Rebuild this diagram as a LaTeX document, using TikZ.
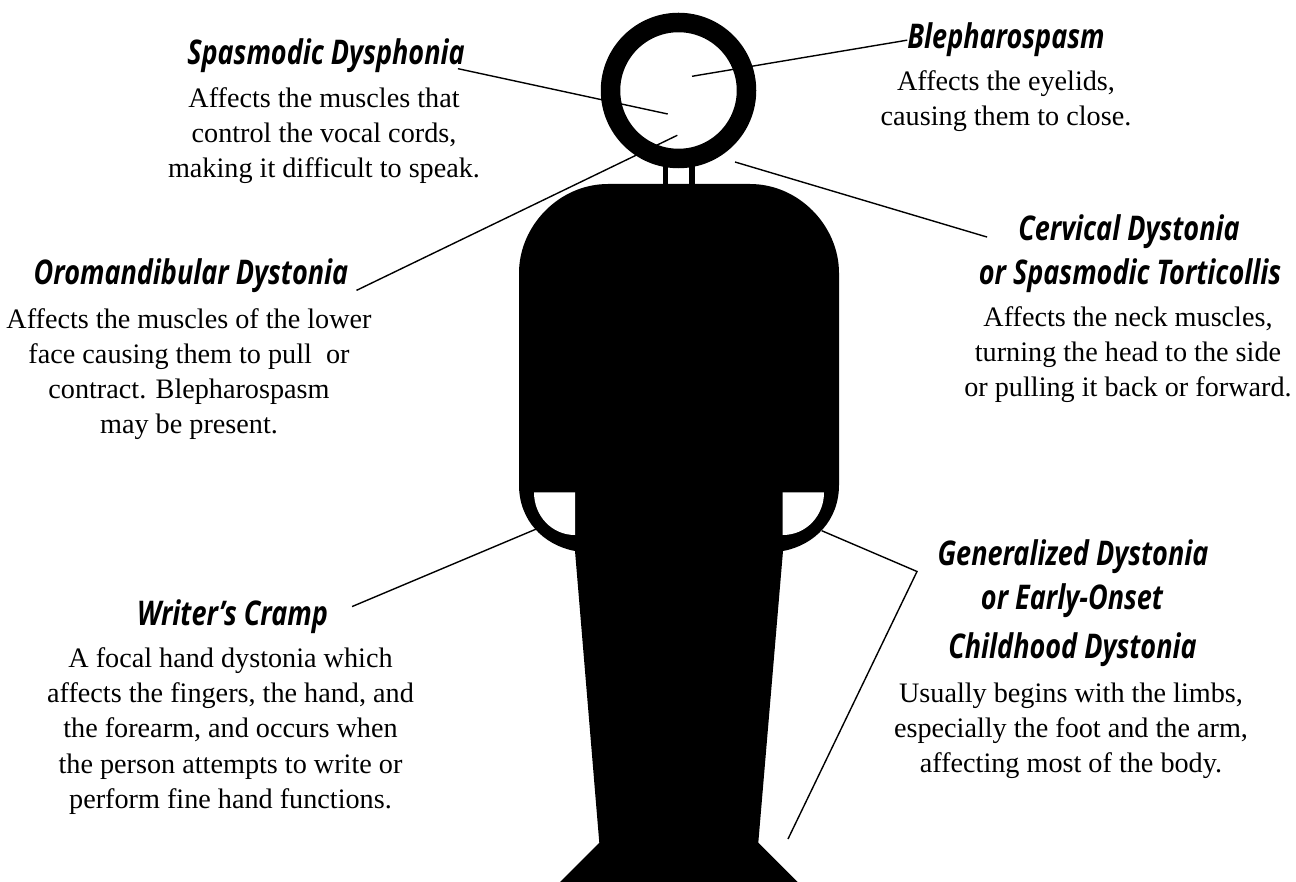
\documentclass[tikz,border=0pt]{standalone}
\usepackage{fontspec}
\setmainfont{Liberation Serif}
\newfontfamily\headfont[FakeStretch=0.795]{Open Sans}
\usepackage{tikz}
\usetikzlibrary{positioning, calc}
\tikzset{
    headtext/.style={font=\headfont\fontsize{34}{44}\selectfont\bfseries\itshape, inner sep=0pt, align=center, anchor=base},
    bodytext/.style={font=\fontsize{28.2}{35.3}\selectfont, inner sep=0pt, align=center, anchor=base},
    leader/.style={line width=1.4pt}
}

\begin{document}
\begin{tikzpicture}[x=1pt, y=-1pt]
\useasboundingbox (0,0) rectangle (1296,882);
% Figure silhouette
\draw[line width=19.5pt] (678.5,90.5) circle (68);
\fill (662.7,160) rectangle (668,190);
\fill (689.3,160) rectangle (694.7,190);
\fill (519,273) .. controls (519,226) and (559,184) .. (608,184) -- (750,184)
    .. controls (799,184) and (839,226) .. (839,273) -- (839,485)
    .. controls (839,520) and (815,545) .. (783,551) -- (758.3,842.7) -- (797.7,882)
    -- (560,882) -- (599.3,842.7) -- (575,551)
    .. controls (543,545) and (519,520) .. (519,485) -- cycle;
% Openings beside the hands
\fill[white] (534,492.3) -- (575,492.3) -- (575,535) .. controls (552,535) and (534,516) .. (534,492.3) -- cycle;
\fill[white] (824,492.3) -- (782.7,492.3) -- (782.7,535) .. controls (806,535) and (824,516) .. (824,492.3) -- cycle;
% Headings
\node[headtext] (dysphonia) at (326,64.3) {Spasmodic Dysphonia};
\node[headtext] (blepharo) at (1006,49) {Blepharospasm};
\node[headtext] (oromand) at (191,285) {Oromandibular Dystonia};
\node[headtext] (cervical) at (1129,240.7) {Cervical Dystonia};
\node[headtext] (torticollis) at (1130,285) {or Spasmodic Torticollis};
\node[headtext] (writers) at (232.5,625.7) {Writer’s Cramp};
\node[headtext] (generalized) at (1073,565) {Generalized Dystonia};
\node[headtext] (earlyonset) at (1072,609.3) {or Early-Onset};
\node[headtext] (childhood) at (1072.5,658.3) {Childhood Dystonia};
% Descriptions
\node[bodytext] (dysphoniatext) at (324,177.7) {Affects the muscles that\\control the vocal cords,\\making it difficult to speak.};
\node[bodytext] (blepharotext) at (1006,126) {Affects the eyelids,\\causing them to close.};
\node[bodytext] (oromandtext) at (189,434) {Affects the muscles of the lower\\face causing them to pull\ \ or\\contract. Blepharospasm\\may be present.};
\node[bodytext] (cervicaltext) at (1128,397) {Affects the neck muscles,\\turning the head to the side\\or pulling it back or forward.};
\node[bodytext] (writerstext) at (230.5,808.3) {A focal hand dystonia which\\affects the fingers, the hand, and\\the forearm, and occurs when\\the person attempts to write or\\perform fine hand functions.};
\node[bodytext] (generalizedtext) at (1071,772.7) {Usually begins with the limbs,\\especially the foot and the arm,\\affecting most of the body.};
% Leader lines
\coordinate (voice) at (667.7,114);
\coordinate (eyelid) at (692,76.3);
\coordinate (jaw) at (677.3,135.3);
\coordinate (neck) at (735,162);
\coordinate (lefthand) at (538,528.3);
\coordinate (righthand) at (821.7,530.7);
\coordinate (corner) at (917,571.5);
\coordinate (foot) at (788,839);
\draw[leader] ([shift={(-7,-4)}]dysphonia.south east) -- (voice);
\draw[leader] (blepharo.west) -- (eyelid);
\draw[leader] ([shift={(8,-3)}]oromand.south east) -- (jaw);
\draw[leader] ([shift={(-31,-12)}]cervical.south west) -- (neck);
\draw[leader] ([shift={(24,-27.5)}]writers.south east) -- (lefthand);
\draw[leader] (righthand) -- (corner) -- (foot);
\end{tikzpicture}
\end{document}
